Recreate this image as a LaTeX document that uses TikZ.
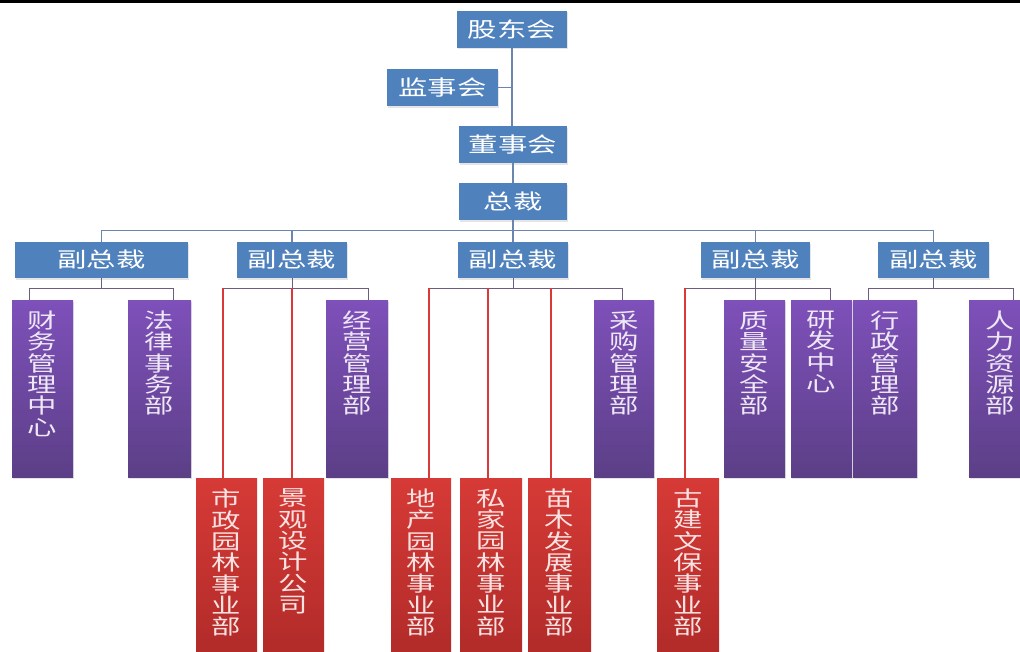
\documentclass[tikz,border=0pt]{standalone}
\usepackage{fontspec}
\newfontfamily\cjk[FakeStretch=1.4]{Noto Sans CJK SC}
\usetikzlibrary{shadows}

\definecolor{boxblue}{HTML}{4F81BD}
\definecolor{purpletop}{HTML}{7E50BA}
\definecolor{purplebot}{HTML}{5C3F87}
\definecolor{purpletext}{HTML}{EEE8F6}
\definecolor{redtop}{HTML}{D63A36}
\definecolor{redbot}{HTML}{AE2A28}
\definecolor{redtext}{HTML}{F8E2E2}
\definecolor{topline}{HTML}{6A86AE}
\definecolor{botline}{HTML}{6C5C7E}
\definecolor{redline}{HTML}{D93A38}

% vertical text, one character per line, set from the top of the box
\newcommand{\vstack}[2]{\parbox[c][#1][t]{50pt}{\fontsize{21}{21.3}\cjk\centering\vspace*{11pt}#2}}

\begin{document}
\begin{tikzpicture}[x=1pt,y=-1pt]
        \tikzset{
          bluebox/.style = {fill=boxblue, text=white, font=\fontsize{21}{24}\cjk,
                            inner sep=0pt, minimum height=37pt,
                            drop shadow={opacity=0.2, shadow xshift=0.5pt, shadow yshift=-1.5pt}},
          purplebox/.style = {top color=purpletop, bottom color=purplebot, text=purpletext,
                              inner sep=0pt, minimum width=61pt,
                              drop shadow={opacity=0.2, shadow xshift=0.5pt, shadow yshift=-1.5pt}},
          redbox/.style = {top color=redtop, bottom color=redbot, text=redtext,
                           inner sep=0pt, minimum width=61pt},
          upline/.style = {draw=topline, line width=1.1pt},
          lowline/.style = {draw=botline, line width=1pt},
          redlink/.style = {draw=redline, line width=1.4pt}
        }
        \fill[white] (0,0) rectangle (1020,651);
        \useasboundingbox (0,0) rectangle (1020,651);
        \fill[black] (0,0) rectangle (1020,2.5);

        % top of the chart
        \node[bluebox, minimum width=110pt] (gdh) at (512,29) {股东会};
        \node[bluebox, minimum width=111pt] (jsh) at (442.5,87.5) {监事会};
        \node[bluebox, minimum width=108pt] (dsh) at (513,144.5) {董事会};
        \node[bluebox, minimum width=108pt] (zc) at (513,201.5) {总裁};

        % vice presidents
        \node[bluebox, minimum width=173pt, minimum height=36pt] (vpa) at (101.5,260) {副总裁};
        \node[bluebox, minimum width=110pt, minimum height=36pt] (vpb) at (292,260) {副总裁};
        \node[bluebox, minimum width=110pt, minimum height=36pt] (vpc) at (513,260) {副总裁};
        \node[bluebox, minimum width=109pt, minimum height=36pt] (vpd) at (755.5,260) {副总裁};
        \node[bluebox, minimum width=111pt, minimum height=36pt] (vpe) at (933.5,260) {副总裁};

        % departments
        \node[purplebox] (cw) at (42.5,388.5) {\vstack{177pt}{财\\务\\管\\理\\中\\心}};
        \node[purplebox, minimum width=63pt] (fl) at (159.5,388.5) {\vstack{177pt}{法\\律\\事\\务\\部}};
        \node[purplebox, minimum width=62pt] (jy) at (357,388.5) {\vstack{177pt}{经\\营\\管\\理\\部}};
        \node[purplebox, minimum width=60pt] (cg) at (624,388.5) {\vstack{177pt}{采\\购\\管\\理\\部}};
        \node[purplebox] (zl) at (754.5,388.5) {\vstack{177pt}{质\\量\\安\\全\\部}};
        \node[purplebox] (yf) at (821.5,388.5) {\vstack{177pt}{研\\发\\中\\心}};
        \node[purplebox, minimum width=64pt] (xz) at (885,388.5) {\vstack{177pt}{行\\政\\管\\理\\部}};
        \node[purplebox, minimum width=62pt] (rl) at (1000,388.5) {\vstack{177pt}{人\\力\\资\\源\\部}};

        % business units
        \node[redbox] (sz) at (226.5,573) {\vstack{190pt}{市\\政\\园\\林\\事\\业\\部}};
        \node[redbox] (jg) at (293.5,573) {\vstack{190pt}{景\\观\\设\\计\\公\\司}};
        \node[redbox, minimum width=60pt] (dc) at (421,573) {\vstack{190pt}{地\\产\\园\\林\\事\\业\\部}};
        \node[redbox, minimum width=62pt] (sj) at (491,573) {\vstack{190pt}{私\\家\\园\\林\\事\\业\\部}};
        \node[redbox, minimum width=63pt] (mm) at (559.5,573) {\vstack{190pt}{苗\\木\\发\\展\\事\\业\\部}};
        \node[redbox, minimum width=62pt] (gj) at (688,573) {\vstack{190pt}{古\\建\\文\\保\\事\\业\\部}};

        % upper links
        \draw[upline] (gdh.south) -- (gdh.south |- dsh.north);
        \draw[upline] (jsh.east) -- (jsh.east -| gdh.south);
        \draw[upline] (dsh.south) -- (zc.north);
        \foreach \v in {vpa,vpb,vpc,vpd,vpe}
            \draw[upline] (zc.south) -- ++(0,10) -| (\v.north);

        % bus points under the vice presidents
        \foreach \v in {vpa,vpb,vpc,vpd,vpe}
            \coordinate (\v bus) at ([yshift=-10pt]\v.south);

        % first vice president
        \draw[lowline] (vpa.south) -- (vpabus);
        \draw[lowline] ([xshift=-13.5pt]cw.north) |- ([xshift=13.5pt]fl.north |- vpabus) -- ([xshift=13.5pt]fl.north);

        % second vice president
        \draw[lowline] (vpb.south) -- (vpbbus);
        \draw[lowline] ([xshift=-3.5pt]sz.north |- vpbbus) -- ([xshift=11pt]jy.north |- vpbbus) -- ([xshift=11pt]jy.north);
        \draw[redlink] ([xshift=-3.5pt]sz.north |- vpbbus) -- ([xshift=-3.5pt]sz.north);
        \draw[redlink] (vpbbus) -- (vpbbus |- jg.north);

        % third vice president
        \draw[lowline] (vpc.south) -- (vpcbus);
        \draw[lowline] ([xshift=8pt]dc.north |- vpcbus) -- ([xshift=-2pt]cg.north |- vpcbus) -- ([xshift=-2pt]cg.north);
        \foreach \u/\s in {dc/8pt, sj/-3pt, mm/-8.5pt}
            \draw[redlink] ([xshift=\s]\u.north |- vpcbus) -- ([xshift=\s]\u.north);

        % fourth vice president
        \draw[lowline] (vpd.south) -- (vpd.south |- zl.north);
        \draw[lowline] ([xshift=-3pt]gj.north |- vpdbus) -- ([xshift=8.5pt]yf.north |- vpdbus) -- ([xshift=8.5pt]yf.north);
        \draw[redlink] ([xshift=-3pt]gj.north |- vpdbus) -- ([xshift=-3pt]gj.north);

        % fifth vice president
        \draw[lowline] (vpe.south) -- (vpebus);
        \draw[lowline] ([xshift=-17pt]xz.north) |- ([xshift=13pt]rl.north |- vpebus) -- ([xshift=13pt]rl.north);
\end{tikzpicture}
\end{document}
